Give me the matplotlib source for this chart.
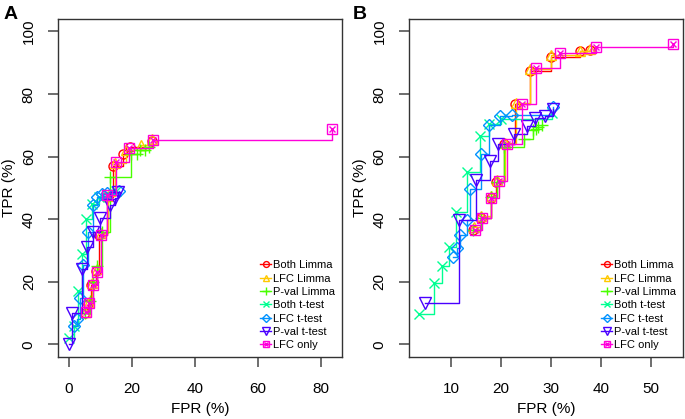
import numpy as np
import matplotlib
matplotlib.use("Agg")
import matplotlib.pyplot as plt
from matplotlib.legend_handler import HandlerTuple

plt.rcParams['font.family'] = ['Liberation Sans', 'DejaVu Sans']

noms = ["Both Limma", "LFC Limma", "P-val Limma", "Both t-test",
        "LFC t-test", "P-val t-test", "LFC only"]
couleurs = ["#FF0000", "#FFC800", "#49FF00", "#00FF92", "#0092FF", "#4900FF", "#FF00DB"]

### Panneau A  (FPR %, TPR %)
A_both_limma_x = [5.0, 6.0, 7.0, 8.5, 9.5, 12.0, 14.0, 17.0, 19.5, 26.5]
A_both_limma_y = [10.0, 13.0, 19.0, 23.5, 35.0, 47.0, 57.0, 61.0, 63.0, 65.0]
A_lfc_limma_x = [5.2, 6.2, 7.3, 8.8, 10.0, 12.5, 14.5, 18.0, 23.0, 26.5]
A_lfc_limma_y = [10.5, 13.5, 19.5, 24.0, 35.5, 47.5, 58.0, 62.0, 63.7, 65.5]
A_pval_limma_x = [5.0, 6.5, 7.5, 9.0, 10.5, 13.0, 19.6, 21.5, 22.5, 24.0, 25.5]
A_pval_limma_y = [10.0, 14.0, 20.0, 25.0, 36.0, 53.6, 61.0, 61.0, 62.0, 62.0, 63.0]
A_both_t_x = [0.0, 1.5, 3.0, 4.2, 5.5, 7.2, 9.5, 12.0, 15.0]
A_both_t_y = [2.0, 6.0, 17.0, 29.0, 40.0, 45.0, 47.0, 48.0, 49.0]
A_lfc_t_x = [1.5, 2.5, 3.5, 4.5, 6.0, 7.6, 9.0, 10.5, 12.0, 16.0]
A_lfc_t_y = [6.0, 8.0, 15.0, 25.5, 36.0, 44.6, 47.0, 48.0, 48.5, 49.0]
A_pval_t_x = [0.0, 1.0, 4.0, 5.6, 7.6, 9.8, 13.0, 14.6, 15.6]
A_pval_t_y = [0.0, 10.0, 24.0, 31.0, 36.0, 40.4, 44.6, 46.8, 48.7]
A_lfc_only_x = [5.3, 6.3, 7.5, 8.8, 10.0, 12.2, 15.0, 19.0, 26.7, 83.4]
A_lfc_only_y = [10.5, 13.3, 19.0, 23.0, 35.0, 47.8, 58.3, 62.7, 65.3, 68.8]

### Panneau B
B_both_limma_x = [14.5, 16.0, 18.0, 19.1, 20.6, 22.8, 25.8, 30.1, 35.8, 37.8]
B_both_limma_y = [36.7, 40.5, 46.9, 52.0, 64.0, 76.7, 87.5, 92.0, 93.9, 94.2]
B_lfc_limma_x = [14.6, 16.1, 18.0, 19.3, 20.8, 23.0, 25.8, 30.1, 35.8, 37.8]
B_lfc_limma_y = [37.5, 41.0, 47.5, 52.5, 64.5, 77.0, 88.0, 92.5, 93.9, 94.5]
B_pval_limma_x = [14.5, 16.0, 18.0, 19.3, 20.6, 24.6, 26.5, 27.0, 27.5, 28.3]
B_pval_limma_y = [36.5, 40.5, 47.0, 52.0, 63.0, 65.7, 68.5, 69.0, 69.5, 70.0]
B_both_t_x = [3.7, 6.7, 8.3, 9.7, 11.0, 13.3, 15.9, 17.7, 20.0, 30.2]
B_both_t_y = [9.7, 19.6, 25.0, 31.2, 42.3, 55.0, 66.7, 70.5, 72.2, 74.0]
B_lfc_t_x = [10.4, 11.3, 11.8, 13.3, 13.9, 16.0, 17.7, 19.8, 22.3, 30.5]
B_lfc_t_y = [28.0, 30.7, 35.0, 39.7, 49.7, 60.9, 70.2, 73.0, 73.3, 75.9]
B_pval_t_x = [4.8, 11.7, 15.0, 17.9, 19.5, 22.6, 25.3, 26.8, 28.8, 30.5]
B_pval_t_y = [13.2, 39.9, 52.6, 58.5, 64.2, 67.2, 69.8, 72.5, 73.0, 75.1]
B_lfc_only_x = [14.8, 16.3, 18.1, 19.6, 21.3, 24.3, 27.1, 31.8, 39.1, 54.5]
B_lfc_only_y = [36.7, 40.5, 46.9, 52.1, 64.0, 76.7, 88.3, 93.1, 95.2, 96.1]

panneau_A = [(A_both_limma_x, A_both_limma_y), (A_lfc_limma_x, A_lfc_limma_y),
             (A_pval_limma_x, A_pval_limma_y), (A_both_t_x, A_both_t_y),
             (A_lfc_t_x, A_lfc_t_y), (A_pval_t_x, A_pval_t_y),
             (A_lfc_only_x, A_lfc_only_y)]
panneau_B = [(B_both_limma_x, B_both_limma_y), (B_lfc_limma_x, B_lfc_limma_y),
             (B_pval_limma_x, B_pval_limma_y), (B_both_t_x, B_both_t_y),
             (B_lfc_t_x, B_lfc_t_y), (B_pval_t_x, B_pval_t_y),
             (B_lfc_only_x, B_lfc_only_y)]

marqueurs = ['o', '^', '+', 'x', 'D', 'v', 's']
tailles = [6.5, 7, 8, 6.5, 6.0, 8, 6.5]


def tracer(ax, series, xticks):
    handles = []
    for i, (x, y) in enumerate(series):
        c = couleurs[i]
        l, = ax.plot(x, y, drawstyle='steps-post', color=c, lw=1.0,
                     marker=marqueurs[i], ms=tailles[i], mfc='none', mec=c, mew=1.0)
        if i == 6:
            l2, = ax.plot(x, y, ls='none', marker='x', ms=5, mec=c, mew=1.0)
            handles.append((l, l2))
        else:
            handles.append(l)
    ax.set_ylim(-4, 104)
    ax.set_yticks([0, 20, 40, 60, 80, 100])
    ax.set_xticks(xticks)
    ax.set_xlabel('FPR (%)', fontsize=11, labelpad=4)
    ax.set_ylabel('TPR (%)', fontsize=11, labelpad=4)
    ax.tick_params(direction='out', length=7, width=1.2, color='#555555',
                   labelsize=11, pad=9)
    ax.tick_params(axis='x', pad=11)
    for lab in ax.get_yticklabels():
        lab.set_rotation(90)
        lab.set_va('center')
    for s in ax.spines.values():
        s.set_color('#333333')
        s.set_linewidth(1.0)
    ax.legend(handles, noms, loc='lower right', bbox_to_anchor=(1.0, 0.0),
              frameon=False, fontsize=8, handlelength=1.0, handletextpad=0.2,
              labelspacing=0.3, borderaxespad=0.4, borderpad=0.2, markerscale=0.65,
              handler_map={tuple: HandlerTuple(ndivide=1)})


fig = plt.figure(figsize=(6.85, 4.19), dpi=100)
axA = fig.add_axes([0.0847, 0.148, 0.4146, 0.8067])
axB = fig.add_axes([0.597, 0.148, 0.400, 0.8067])

tracer(axA, panneau_A, [0, 20, 40, 60, 80])
axA.set_xlim(-3.5, 86.7)
tracer(axB, panneau_B, [10, 20, 30, 40, 50])
axB.set_xlim(1.6, 56.4)

fig.text(0.005, 0.985, 'A', fontsize=14, fontweight='bold', va='top', ha='left')
fig.text(0.515, 0.985, 'B', fontsize=14, fontweight='bold', va='top', ha='left')

fig.savefig('out.png', dpi=100)
